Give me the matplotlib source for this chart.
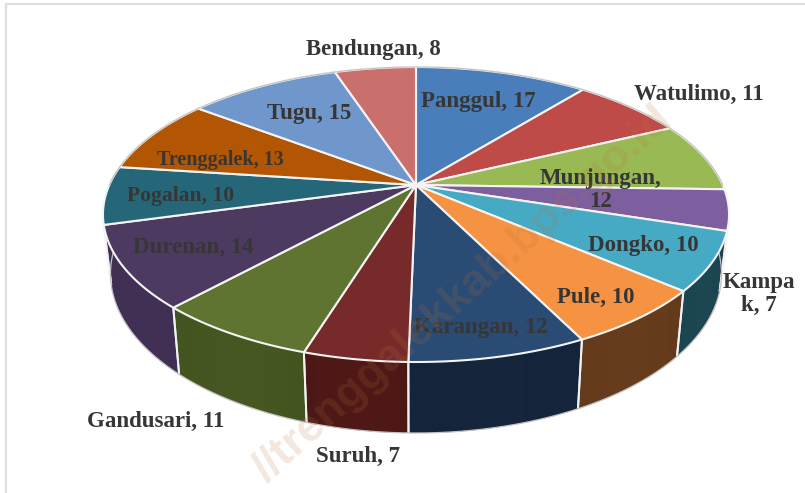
import numpy as np
import matplotlib
matplotlib.use("Agg")
import matplotlib.pyplot as plt
from matplotlib.patches import Polygon

# Kecamatan and values, clockwise from the top
names = ["Panggul", "Watulimo", "Munjungan", "Kampak", "Dongko", "Pule", "Karangan",
         "Suruh", "Gandusari", "Durenan", "Pogalan", "Trenggalek", "Tugu", "Bendungan"]
values = [17, 11, 12, 7, 10, 10, 12, 7, 11, 14, 10, 13, 15, 8]

top_colors = ["#4A7EBB", "#BE4B48", "#98B954", "#7D5FA0", "#46AAC5", "#F59342", "#2A4B74",
              "#772A2A", "#5E7430", "#4D3A61", "#256679", "#B25604", "#6F97CB", "#CB6F6D"]
side_colors = ["#2F4F75", "#772F2D", "#5F7435", "#4E3C64", "#1B444F", "#633A1B", "#14243A",
               "#4C1816", "#445420", "#3F2F52", "#1A4350", "#703503", "#45608A", "#7F4644"]

# label text, centre x, centre y, font size
label_text = ["Panggul, 17", "Watulimo, 11", "Munjungan,\n12", "Kampa\nk, 7", "Dongko, 10", "Pule, 10",
              "Karangan, 12", "Suruh, 7", "Gandusari, 11", "Durenan, 14", "Pogalan, 10",
              "Trenggalek, 13", "Tugu, 15", "Bendungan, 8"]
label_x = [478, 699, 601, 759, 643, 596, 481, 358, 156, 193, 181, 220, 309, 373]
label_y = [102, 94, 190, 294, 245, 297, 327, 456, 421, 247, 196, 160, 113, 50]
label_size = [16.5, 16.5, 16.5, 16.5, 16.5, 16.5, 16.5, 16.5, 16.5, 16.5, 15.5, 14.5, 16.5, 16.5]

# perspective of the disc, in pixels
cx, cy = 416, 185
b, a, k, depth, shrink = 306.7, 141.6, 0.2, 56.8, 0.976


def project(t, lower=False):
    u = np.sin(t)
    v = -np.cos(t)
    w = 1 - k * v
    x = b * u / w
    y = cy - a * np.cos(t) / w
    if lower:
        x = x * shrink
        y = y + depth / w
    return cx + x, y


fig = plt.figure(figsize=(8.05, 4.93), dpi=100)
ax = fig.add_axes([0, 0, 1, 1])

# frame of the original picture (left and top only)
ax.plot([6, 6, 805], [493, 4, 4], color="#DEDEDE", lw=1.6, zorder=1)

edges = np.concatenate([[0], np.cumsum(values)]) / sum(values) * 2 * np.pi

# outer wall, back slices first
order = np.argsort([abs(((edges[i] + edges[i + 1]) / 2) - np.pi) for i in range(len(values))])[::-1]
for i in order:
    t = np.linspace(edges[i], edges[i + 1], 60)
    xt, yt = project(t)
    xb, yb = project(t, lower=True)
    pts = list(zip(xt, yt)) + list(zip(xb[::-1], yb[::-1]))
    base = np.array(matplotlib.colors.to_rgb(side_colors[i]))
    wall = Polygon(pts, closed=True, facecolor=side_colors[i], edgecolor="none", zorder=2)
    ax.add_patch(wall)
    # soft lighter band across each wall
    f = 1 + 0.04 * np.sin(np.linspace(0, np.pi, 40))
    grad = np.clip(base[None, None, :] * f[None, :, None], 0, 1)
    all_x = np.concatenate([xt, xb])
    all_y = np.concatenate([yt, yb])
    im = ax.imshow(grad, extent=[all_x.min(), all_x.max(), all_y.max(), all_y.min()],
                   aspect="auto", interpolation="bilinear", zorder=2)
    im.set_clip_path(wall)
    for e in [t[0], t[-1]]:
        x0, y0 = project(e)
        x1, y1 = project(e, lower=True)
        if -np.cos(e) > -0.05:
            ax.plot([x0, x1], [y0, y1], color="#F2F2F2", lw=1.4, zorder=3, solid_capstyle="butt")

# silhouette: bottom rim in front, thin grey
t = np.linspace(np.pi / 2, 3 * np.pi / 2, 300)
ax.plot(*project(t, lower=True), color="#C4C4C4", lw=0.9, zorder=3)

# top face
for i in range(len(values)):
    t = np.linspace(edges[i], edges[i + 1], 60)
    xt, yt = project(t)
    pts = [(cx, cy)] + list(zip(xt, yt))
    ax.add_patch(Polygon(pts, closed=True, facecolor=top_colors[i], edgecolor="#F4F4F4",
                         lw=1.5, joinstyle="round", zorder=4))

t = np.linspace(-np.pi / 2, np.pi / 2, 300)
ax.plot(*project(t), color="#C4C4C4", lw=0.9, zorder=5)

for s, x, y, fs in zip(label_text, label_x, label_y, label_size):
    ax.text(x, y, s, ha="center", va="center", fontsize=fs, fontweight="bold",
            family="Liberation Serif", color="#363636", linespacing=1.12, zorder=6)

# watermark across the chart
ax.text(463, 294, "//trenggalekkab.bps.go.id", ha="center", va="center", rotation=41.5,
        rotation_mode="anchor", fontsize=32.5, fontweight="bold", family="Liberation Sans",
        color="#B8713C", alpha=0.17, zorder=7)

ax.set_xlim(0, 805)
ax.set_ylim(493, 0)
ax.axis("off")

fig.savefig("out.png", dpi=100)
